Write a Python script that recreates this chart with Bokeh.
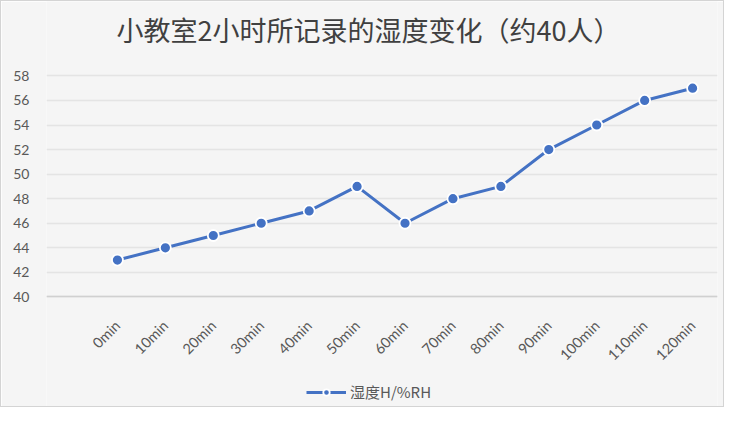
from bokeh.plotting import figure
from bokeh.models import Range1d, FixedTicker, Legend, LegendItem, ColumnDataSource, Label
from bokeh.core.properties import value
from bokeh.embed import file_html
from bokeh.resources import INLINE
import math

title_text = "小教室2小时所记录的湿度变化（约40人）"
series_name = "湿度H/%RH"
times = ["0min", "10min", "20min", "30min", "40min", "50min", "60min",
         "70min", "80min", "90min", "100min", "110min", "120min"]
humidity = [43, 44, 45, 46, 47, 49, 46, 48, 49, 52, 54, 56, 57]
y_ticks = [40, 42, 44, 46, 48, 50, 52, 54, 56, 58]

xs = list(range(len(times)))
src = ColumnDataSource(dict(x=xs, y=humidity))

BG = "#f5f5f5"
BLUE = "#4472C4"
TXT = "#595959"

# frame spans the full height; 40..58 occupies the middle band
p = figure(width=724, height=407, output_backend="svg", toolbar_location=None,
           x_range=Range1d(-1.48, 12.52), y_range=Range1d(30.911, 64.059),
           min_border_left=45, min_border_right=8, min_border_top=0, min_border_bottom=0,
           background_fill_color=BG, border_fill_color=BG, outline_line_color=None)
p.styles = {"border": "1px solid #d4d4d4"}

title = Label(x=5.24, y=61.78, text=title_text, text_font="Noto Sans CJK SC",
              text_font_size="27px", text_font_style="normal", text_color="#404040",
              text_align="center", text_baseline="middle")
p.add_layout(title)

p.xgrid.grid_line_color = None
p.ygrid.ticker = FixedTicker(ticks=y_ticks)
p.ygrid.grid_line_color = "#e4e4e4"
p.ygrid.grid_line_width = 1.5

p.yaxis.ticker = FixedTicker(ticks=y_ticks)
p.yaxis.axis_line_color = None
p.yaxis.major_tick_line_color = None
p.yaxis.minor_tick_line_color = None
p.yaxis.major_label_standoff = 11
p.yaxis.major_label_text_font = "Lato"
p.yaxis.major_label_text_font_size = "14px"
p.yaxis.major_label_text_color = TXT

p.xaxis.fixed_location = y_ticks[0]
p.xaxis.ticker = FixedTicker(ticks=xs)
p.xaxis.axis_line_color = "#d0d0d0"
p.xaxis.axis_line_width = 1.5
p.xaxis.major_tick_line_color = None
p.xaxis.minor_tick_line_color = None
p.xaxis.major_label_text_color = None

# category labels, right end anchored under each category (Excel style)
lab_y = y_ticks[0] - 26 / 12.278
p.text(x=xs, y=[lab_y] * len(xs), text=times, angle=math.pi / 4,
       text_align="right", text_baseline="middle", text_font=value("Lato"),
       text_font_size="14.5px", text_color=TXT)

ln = p.line("x", "y", source=src, line_color=BLUE, line_width=3)
sc = p.scatter("x", "y", source=src, size=11, fill_color=BLUE, line_color="white", line_width=1.8)

legend = Legend(items=[LegendItem(label=series_name, renderers=[ln, sc])],
                location=(260, 6), orientation="horizontal",
                background_fill_alpha=0, border_line_color=None,
                padding=0, margin=0, glyph_width=40, glyph_height=16, label_height=16,
                label_standoff=4, label_text_font="Noto Sans CJK SC",
                label_text_font_size="15px", label_text_color=TXT)
p.add_layout(legend)

open("out.html", "w").write(file_html(p, INLINE))
